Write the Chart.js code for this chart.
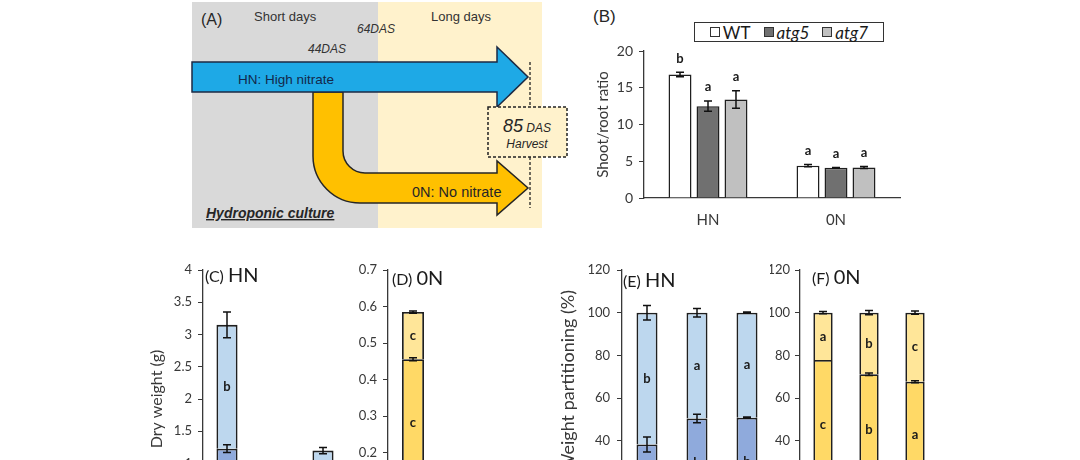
<!DOCTYPE html>
<html>
<head>
<meta charset="utf-8">
<script src="https://cdn.jsdelivr.net/npm/chart.js@4.4.1/dist/chart.umd.min.js"></script>
<style>
  html, body { margin: 0; padding: 0; width: 1080px; height: 460px; overflow: hidden; background: #fff; }
  .abs { position: absolute; }
  .plab { position: absolute; font-family: Lato, sans-serif; color: #1a1a1a; white-space: nowrap; line-height: 20px; }
  .plab .p { font-size: 16px; }
  .plab .n { font-size: 20px; }
  #legendB { position: absolute; left: 694px; top: 22px; width: 188px; height: 18px; border: 1.3px solid #333;
             display: flex; align-items: center; justify-content: center; gap: 13px;
             font-family: Lato, sans-serif; font-size: 17px; color: #1a1a1a; }
  #legendB .it { display: flex; align-items: center; gap: 3px; }
  #legendB .sq { width: 8px; height: 8px; border: 1px solid #333; }
</style>
</head>
<body>

<svg class="abs" style="left:0;top:0" width="580" height="235" font-family="Liberation Sans, Arial, sans-serif">
  <rect x="192" y="2" width="186" height="226" fill="#d9d9d9"/>
  <rect x="378" y="2" width="164" height="226" fill="#fff2cc"/>
  <path d="M313,92 L313,156 A47,47 0 0 0 360,203 L497,203 L497,215 L528,188 L497,161 L497,173 L365,173 A22,22 0 0 1 343,151 L343,92 Z"
        fill="#ffc000" stroke="#262626" stroke-width="1.5"/>
  <path d="M192,62 L497,62 L497,47 L528,77 L497,107 L497,92 L192,92 Z" fill="#1ea9e6" stroke="#1c2a44" stroke-width="1.5"/>
  <text x="201" y="25" font-size="16" fill="#262626">(A)</text>
  <text x="254" y="21" font-size="13" fill="#333">Short days</text>
  <text x="431" y="21" font-size="13" fill="#333">Long days</text>
  <text x="357" y="33" font-size="12" font-style="italic" fill="#333">64DAS</text>
  <text x="308" y="53" font-size="12" font-style="italic" fill="#333">44DAS</text>
  <text x="238" y="84" font-size="13.5" fill="#13284a">HN: High nitrate</text>
  <text x="412" y="197" font-size="14.5" fill="#262626">0N: No nitrate</text>
  <line x1="530" y1="62" x2="530" y2="208" stroke="#222" stroke-width="1.3" stroke-dasharray="3,2"/>
  <rect x="488" y="107" width="79" height="50" fill="#fff2cc" stroke="#222" stroke-width="1.5" stroke-dasharray="3,2"/>
  <text x="527" y="132" text-anchor="middle" font-style="italic" fill="#262626"><tspan font-size="18">85</tspan><tspan font-size="12"> DAS</tspan></text>
  <text x="527" y="148" text-anchor="middle" font-size="12" font-style="italic" fill="#262626">Harvest</text>
  <text x="206" y="218" font-size="14" font-weight="bold" font-style="italic" text-decoration="underline" fill="#262626">Hydroponic culture</text>
</svg>

<div class="abs" style="left:593px;top:7px;font-family:'Liberation Sans',Arial,sans-serif;font-size:17px;color:#262626">(B)</div>
<div id="legendB"></div>

<canvas id="chartB" class="abs" style="left:580px;top:0" width="330" height="235"></canvas>
<canvas id="chartC" class="abs" style="left:140px;top:255px" width="215" height="300"></canvas>
<canvas id="chartD" class="abs" style="left:355px;top:255px" width="190" height="300"></canvas>
<canvas id="chartE" class="abs" style="left:555px;top:255px" width="225" height="300"></canvas>
<canvas id="chartF" class="abs" style="left:770px;top:255px" width="175" height="300"></canvas>

<div class="plab" style="left:205px;top:264px"><span class="p">(C)</span> <span class="n">HN</span></div>
<div class="plab" style="left:392px;top:267px"><span class="p">(D)</span> <span class="n">0N</span></div>
<div class="plab" style="left:623px;top:269px"><span class="p">(E)</span> <span class="n">HN</span></div>
<div class="plab" style="left:812px;top:266px"><span class="p">(F)</span> <span class="n">0N</span></div>

<script>
const genotypes = ['WT', 'atg5', 'atg7'];
const nitrate = ['HN', '0N'];

// (B) shoot/root ratio, [HN, 0N] for each genotype
const ratioWT = [16.8, 4.4];
const ratioAtg5 = [12.5, 4.1];
const ratioAtg7 = [13.4, 4.15];
const ratioErrWT = [0.3, 0.15];
const ratioErrAtg5 = [0.7, 0.05];
const ratioErrAtg7 = [1.2, 0.15];
const ratioLetWT = ['b', 'a'];
const ratioLetAtg5 = ['a', 'a'];
const ratioLetAtg7 = ['a', 'a'];
const colorsB = ['#ffffff', '#707070', '#c0c0c0'];

// (C) dry weight HN (g), [WT, atg5, atg7], segments bottom -> top
const dwHNBottom = [0.25, 0.09, 0.11];
const dwHNMiddle = [0.98, 0.40, 0.50];
const dwHNTop = [1.92, 0.48, 0.59];
const dwHNMidErr = [0.06, 0.03, 0.02];
const dwHNTopErr = [0.2, 0.04, 0.05];
const dwHNMidLet = ['', '', ''];
const dwHNTopLet = ['b', '', ''];

// (D) dry weight 0N (g)
const dw0NBottom = [0.108, 0.030, 0.026];
const dw0NMiddle = [0.348, 0.084, 0.075];
const dw0NTop = [0.129, 0.046, 0.049];
const dw0NMidErr = [0.004, 0.005, 0.005];
const dw0NTopErr = [0.003, 0.01, 0.01];
const dw0NMidLet = ['c', '', ''];
const dw0NTopLet = ['c', '', ''];

// (E) dry weight partitioning HN (%)
const pcHNBottom = [8, 9, 9];
const pcHNMiddle = [30.2, 41.4, 41.8];
const pcHNTop = [61.8, 49.6, 49.2];
const pcHNMidErr = [3.5, 2, 0.3];
const pcHNTopErr = [3.4, 2, 0.3];
const pcHNMidLet = ['', 'b', 'b'];
const pcHNTopLet = ['b', 'a', 'a'];

// (F) dry weight partitioning 0N (%)
const pc0NBottom = [16.6, 19, 17.6];
const pc0NMiddle = [61.2, 52.1, 50.0];
const pc0NTop = [22.2, 28.9, 32.4];
const pc0NMidErr = [0, 0.6, 0.5];
const pc0NTopErr = [0.5, 1, 0.8];
const pc0NMidLet = ['c', 'b', 'a'];
const pc0NTopLet = ['a', 'b', 'c'];

const hnColors = ['#5b7fc0', '#8faadc', '#bdd7ee'];
const onColors = ['#d9a400', '#ffd966', '#ffe699'];

Chart.defaults.font.family = 'Lato, sans-serif';
const inkColor = '#1f1f1f';
const tickColor = '#383838';

// legend for (B)
const legendB = document.getElementById('legendB');
genotypes.forEach((g, i) => {
    const item = document.createElement('div');
    item.className = 'it';
    item.innerHTML = `<span class="sq" style="background:${colorsB[i]}"></span>` +
        `<span style="font-style:${g === 'WT' ? 'normal' : 'italic'}">${g}</span>`;
    legendB.appendChild(item);
});

// error bars + significance letters
const barMarks = {
    id: 'barMarks',
    afterDatasetsDraw(chart, args, opts) {
        const ctx = chart.ctx;
        const y = chart.scales.y;
        ctx.save();
        chart.data.datasets.forEach((ds, di) => {
            const meta = chart.getDatasetMeta(di);
            meta.data.forEach((bar, i) => {
                const err = ds.errors ? ds.errors[i] : 0;
                const errPx = Math.abs(y.getPixelForValue(0) - y.getPixelForValue(err));
                if (err > 0) {
                    ctx.strokeStyle = '#111';
                    ctx.lineWidth = 1.5;
                    ctx.beginPath();
                    ctx.moveTo(bar.x, bar.y - errPx);
                    ctx.lineTo(bar.x, bar.y + errPx);
                    ctx.moveTo(bar.x - 4, bar.y - errPx);
                    ctx.lineTo(bar.x + 4, bar.y - errPx);
                    ctx.moveTo(bar.x - 4, bar.y + errPx);
                    ctx.lineTo(bar.x + 4, bar.y + errPx);
                    ctx.stroke();
                }
                const letter = ds.letters ? ds.letters[i] : '';
                if (letter) {
                    ctx.fillStyle = '#1a1a1a';
                    ctx.font = 'bold ' + opts.size + 'px Lato, sans-serif';
                    ctx.textAlign = 'center';
                    ctx.textBaseline = 'middle';
                    const ly = opts.inside ? (bar.y + bar.base) / 2 : bar.y - errPx - opts.gap;
                    ctx.fillText(letter, bar.x, ly);
                }
            });
        });
        ctx.restore();
    }
};

function fmt(v) {
    return String(Number(v.toFixed(2)));
}

new Chart(document.getElementById('chartB'), {
    type: 'bar',
    data: {
        labels: nitrate,
        datasets: [
            { label: genotypes[0], data: ratioWT, errors: ratioErrWT, letters: ratioLetWT, backgroundColor: colorsB[0] },
            { label: genotypes[1], data: ratioAtg5, errors: ratioErrAtg5, letters: ratioLetAtg5, backgroundColor: colorsB[1] },
            { label: genotypes[2], data: ratioAtg7, errors: ratioErrAtg7, letters: ratioLetAtg7, backgroundColor: colorsB[2] }
        ]
    },
    options: {
        responsive: false,
        animation: false,
        layout: { padding: { top: 51, right: 10, left: 0, bottom: 0 } },
        datasets: { bar: { categoryPercentage: 0.656, barPercentage: 0.82, borderColor: inkColor, borderWidth: 1.5 } },
        scales: {
            x: {
                grid: { display: false, drawTicks: false },
                border: { display: true, color: tickColor, width: 1.3 },
                ticks: { padding: 13, color: tickColor, font: { size: 15 } },
                afterFit: s => { s.height = 37; }
            },
            y: {
                min: 0, max: 20,
                ticks: { stepSize: 5, padding: 6, color: tickColor, font: { size: 14 } },
                grid: { drawOnChartArea: false, tickLength: 5, color: tickColor },
                border: { color: tickColor, width: 1.3 },
                title: { display: true, text: 'Shoot/root ratio', color: tickColor, font: { size: 15 }, padding: { top: 14, bottom: 0 } },
                afterFit: s => { s.width = 64; }
            }
        },
        plugins: {
            legend: { display: false },
            tooltip: { enabled: false },
            barMarks: { inside: false, gap: 14, size: 13 }
        }
    },
    plugins: [barMarks]
});

function stackedPanel(id, p) {
    const seg = (label, data, errors, letters, color) =>
        ({ label, data, errors, letters, backgroundColor: color });
    new Chart(document.getElementById(id), {
        type: 'bar',
        data: {
            labels: genotypes,
            datasets: [
                seg('bottom', p.bottom, null, null, p.colors[0]),
                seg('middle', p.middle, p.midErr, p.midLet, p.colors[1]),
                seg('top', p.top, p.topErr, p.topLet, p.colors[2])
            ]
        },
        options: {
            responsive: false,
            animation: false,
            layout: { padding: p.pad },
            datasets: { bar: { categoryPercentage: 1, barPercentage: p.barPct, borderColor: inkColor, borderWidth: 1.8 } },
            scales: {
                x: { display: false, stacked: true },
                y: {
                    stacked: true,
                    min: 0, max: p.max,
                    ticks: { stepSize: p.step, padding: p.tickPad, color: tickColor, font: { size: 13 }, callback: v => fmt(v) },
                    grid: { drawOnChartArea: false, tickLength: 5, color: tickColor },
                    border: { color: tickColor, width: 1.3 },
                    title: { display: !!p.title, text: p.title || '', color: tickColor, font: { size: p.titleSize || 16 }, padding: { top: p.titlePad, bottom: 0 } },
                    afterFit: s => { s.width = p.yWidth; }
                }
            },
            plugins: {
                legend: { display: false },
                tooltip: { enabled: false },
                barMarks: { inside: true, gap: 0, size: 13 }
            }
        },
        plugins: [barMarks]
    });
}

stackedPanel('chartC', {
    bottom: dwHNBottom, middle: dwHNMiddle, top: dwHNTop,
    midErr: dwHNMidErr, topErr: dwHNTopErr, midLet: dwHNMidLet, topLet: dwHNTopLet,
    colors: hnColors, max: 4, step: 0.5, barPct: 0.44,
    pad: { top: 15, right: 8, left: 0, bottom: 27 }, yWidth: 63, tickPad: 6,
    title: 'Dry weight (g)', titlePad: 7, titleSize: 16
});

stackedPanel('chartD', {
    bottom: dw0NBottom, middle: dw0NMiddle, top: dw0NTop,
    midErr: dw0NMidErr, topErr: dw0NTopErr, midLet: dw0NMidLet, topLet: dw0NTopLet,
    colors: onColors, max: 0.7, step: 0.1, barPct: 0.44,
    pad: { top: 15, right: 7, left: 0, bottom: 29 }, yWidth: 33, tickPad: 6
});

stackedPanel('chartE', {
    bottom: pcHNBottom, middle: pcHNMiddle, top: pcHNTop,
    midErr: pcHNMidErr, topErr: pcHNTopErr, midLet: pcHNMidLet, topLet: pcHNTopLet,
    colors: hnColors, max: 120, step: 20, barPct: 0.42,
    pad: { top: 15, right: 8, left: 0, bottom: 29 }, yWidth: 67, tickPad: 7,
    title: 'Dry Weight partitioning (%)', titlePad: 2, titleSize: 18
});

stackedPanel('chartF', {
    bottom: pc0NBottom, middle: pc0NMiddle, top: pc0NTop,
    midErr: pc0NMidErr, topErr: pc0NTopErr, midLet: pc0NMidLet, topLet: pc0NTopLet,
    colors: onColors, max: 120, step: 20, barPct: 0.42,
    pad: { top: 15, right: 7, left: 0, bottom: 29 }, yWidth: 30, tickPad: 5
});
</script>
</body>
</html>
